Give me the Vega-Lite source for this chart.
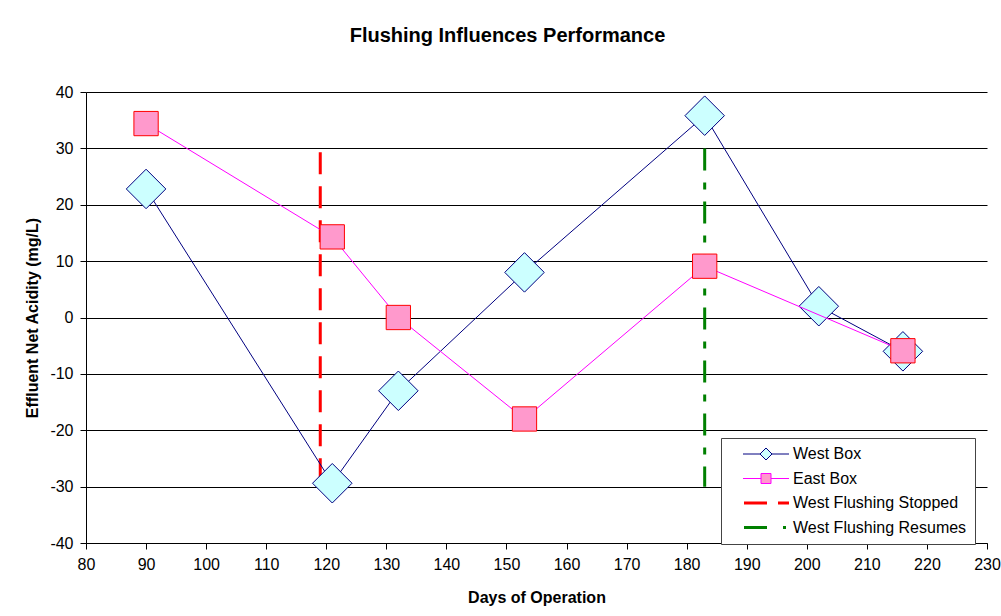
{
  "$schema": "https://vega.github.io/schema/vega-lite/v6.json",
  "width": 901,
  "height": 451,
  "autosize": "none",
  "padding": {"left": 86, "top": 92, "right": 14, "bottom": 73},
  "background": "white",
  "title": {"text": "Flushing Influences Performance", "font": "Arial", "fontSize": 20, "fontWeight": "bold", "color": "#000", "anchor": "middle", "dx": -29, "offset": 38},
  "config": {"view": {"stroke": null}, "font": "Arial"},
  "data": {"values": [
    {"series": "West Box", "day": 90, "value": 22.8},
    {"series": "West Box", "day": 121, "value": -29.4},
    {"series": "West Box", "day": 132, "value": -13},
    {"series": "West Box", "day": 153, "value": 8},
    {"series": "West Box", "day": 183, "value": 35.8},
    {"series": "West Box", "day": 202, "value": 2},
    {"series": "West Box", "day": 216, "value": -6},
    {"series": "East Box", "day": 90, "value": 34.4},
    {"series": "East Box", "day": 121, "value": 14.3},
    {"series": "East Box", "day": 132, "value": 0},
    {"series": "East Box", "day": 153, "value": -18},
    {"series": "East Box", "day": 183, "value": 9.1},
    {"series": "East Box", "day": 216, "value": -5.9},
    {"series": "West Flushing Stopped", "day": 119, "value": 29.3, "ord": 1},
    {"series": "West Flushing Stopped", "day": 119, "value": -30, "ord": 2},
    {"series": "West Flushing Resumes", "day": 183, "value": 30, "ord": 1},
    {"series": "West Flushing Resumes", "day": 183, "value": -30, "ord": 2}
  ]},
  "encoding": {
    "x": {"field": "day", "type": "quantitative",
      "scale": {"domain": [80, 230], "nice": false, "zero": false},
      "axis": {"title": "Days of Operation", "values": [80, 90, 100, 110, 120, 130, 140, 150, 160, 170, 180, 190, 200, 210, 220, 230],
        "grid": false, "domainColor": "#000", "tickColor": "#000", "tickSize": 6, "labelPadding": 7,
        "labelFont": "Arial", "labelFontSize": 16, "labelColor": "#000", "labelFlush": false, "labelOverlap": false,
        "titleFont": "Arial", "titleFontSize": 16, "titleFontWeight": "bold", "titleColor": "#000", "titlePadding": 17}},
    "y": {"field": "value", "type": "quantitative",
      "scale": {"domain": [-40, 40], "nice": false},
      "axis": {"title": "Effluent Net Acidity (mg/L)", "values": [-40, -30, -20, -10, 0, 10, 20, 30, 40],
        "labelExpr": "replace(datum.label, '\u2212', '-')",
        "grid": true, "gridColor": "#000", "gridOpacity": 1, "gridWidth": 1,
        "domainColor": "#000", "tickColor": "#000", "tickSize": 6, "labelPadding": 7,
        "labelFont": "Arial", "labelFontSize": 16, "labelColor": "#000",
        "titleFont": "Arial", "titleFontSize": 16, "titleFontWeight": "bold", "titleColor": "#000", "titlePadding": 9}}
  },
  "layer": [
    {
      "transform": [{"filter": "datum.series === 'West Flushing Stopped'"}],
      "mark": {"type": "line", "strokeWidth": 3, "strokeDash": [22, 12]},
      "encoding": {
        "order": {"field": "ord", "type": "quantitative"},
        "color": {"field": "series", "type": "nominal",
          "scale": {"domain": ["West Box", "East Box", "West Flushing Stopped", "West Flushing Resumes"], "range": ["#000080", "#FF00FF", "#FF0000", "#008000"]},
          "legend": {
            "title": null, "orient": "none", "legendX": 635, "legendY": 346,
            "padding": 8, "strokeColor": "#444", "fillColor": "#fff",
            "labelFont": "Arial", "labelFontSize": 16, "labelColor": "#000", "labelOffset": 48, "labelLimit": 400,
            "symbolSize": 256, "rowPadding": 8.5,
            "encode": {"symbols": {"update": {
              "shape": {"signal": "datum.value === 'West Box' ? 'M0.75,0H2.875M4.375,0H6.5M3.625,-0.75L4.375,0L3.625,0.75L2.875,0Z' : datum.value === 'East Box' ? 'M0.75,0H3M4.25,0H6.5M3,-0.625H4.25V0.625H3Z' : datum.value === 'West Flushing Stopped' ? 'M0.875,0H3.75M5.125,0H6.5' : 'M0.875,0H3.75M5.75,0H6.125'"},
              "fill": {"signal": "datum.value === 'West Box' ? '#CCFFFF' : datum.value === 'East Box' ? '#FF99CC' : 'transparent'"},
              "stroke": {"signal": "datum.value === 'West Box' ? '#000080' : datum.value === 'East Box' ? '#FF00FF' : datum.value === 'West Flushing Stopped' ? '#FF0000' : '#008000'"},
              "strokeWidth": {"signal": "(datum.value === 'West Box' || datum.value === 'East Box') ? 1 : 3"},
              "opacity": {"value": 1},
              "fillOpacity": {"value": 1},
              "strokeOpacity": {"value": 1}
            }}}
          }}
      }
    },
    {
      "transform": [{"filter": "datum.series === 'West Flushing Resumes'"}],
      "mark": {"type": "line", "strokeWidth": 3, "strokeDash": [22, 12, 7, 12], "color": "#008000"},
      "encoding": {"order": {"field": "ord", "type": "quantitative"}}
    },
    {
      "transform": [{"filter": "datum.series === 'West Box'"}],
      "mark": {"type": "line", "strokeWidth": 1, "color": "#000080"},
      "encoding": {}
    },
    {
      "transform": [{"filter": "datum.series === 'West Box'"}],
      "mark": {"type": "point", "shape": "diamond", "size": 1560, "filled": true, "fill": "#CCFFFF", "stroke": "#000080", "strokeWidth": 1, "opacity": 1},
      "encoding": {}
    },
    {
      "transform": [{"filter": "datum.series === 'East Box'"}],
      "mark": {"type": "line", "strokeWidth": 1, "color": "#FF00FF"},
      "encoding": {}
    },
    {
      "transform": [{"filter": "datum.series === 'East Box'"}],
      "mark": {"type": "point", "shape": "square", "size": 590, "filled": true, "fill": "#FF99CC", "stroke": "#FF0000", "strokeWidth": 1, "opacity": 1},
      "encoding": {}
    }
  ]
}
